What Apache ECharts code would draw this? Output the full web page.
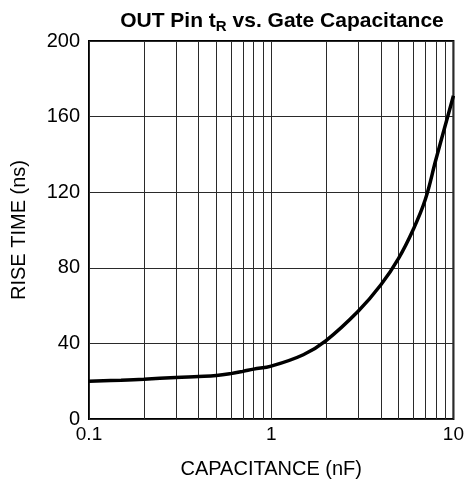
<!DOCTYPE html>
<html>
<head>
<meta charset="utf-8">
<script src="https://cdn.jsdelivr.net/npm/echarts@6/dist/echarts.min.js"></script>
<style>
html,body{margin:0;padding:0;background:#fff;}
#c{width:467px;height:489px;}
</style>
</head>
<body>
<div id="c"></div>
<script>
var capacitance = [0.1, 0.15, 0.2, 0.3, 0.4, 0.5, 0.6, 0.7, 0.8, 1, 1.5, 2, 3, 4, 5, 6, 7, 8, 9, 10];
var riseTime    = [20, 20.5, 21, 22, 22.5, 23, 24, 25.2, 26.4, 28, 34, 41.5, 57, 71, 85, 100, 116, 137, 155, 171];
var minorGridX  = [0.2, 0.3, 0.4, 0.5, 0.6, 0.7, 0.8, 0.9, 2, 3, 4, 5, 6, 7, 8, 9];
var yTicks = {min: 0, max: 200, interval: 40};
var xRange = {min: 0.1, max: 10};

var chart = echarts.init(document.getElementById('c'), null, {renderer: 'canvas'});
var font = 'Liberation Sans, Arial, sans-serif';
var gridColor = '#2a2a2a';

chart.setOption({
  animation: false,
  backgroundColor: '#fff',
  title: {
    text: '{b|OUT Pin t}{s|R}{b| vs. Gate Capacitance}',
    left: 277,
    textAlign: 'center',
    top: 4,
    textStyle: {
      rich: {
        b: {fontFamily: font, fontWeight: 'bold', fontSize: 21, color: '#000'},
        s: {fontFamily: font, fontWeight: 'bold', fontSize: 15, color: '#000', verticalAlign: 'bottom', padding: [10, 0, 0, 0]}
      }
    }
  },
  grid: {
    left: 89, right: 12, top: 41, bottom: 70,
    show: true, borderColor: '#000', borderWidth: 2, backgroundColor: 'transparent'
  },
  xAxis: {
    type: 'log', logBase: 10, min: xRange.min, max: xRange.max,
    name: 'CAPACITANCE (nF)', nameLocation: 'middle', nameGap: 40,
    nameTextStyle: {fontFamily: font, fontSize: 20, color: '#000'},
    axisLine: {show: false}, axisTick: {show: false},
    axisLabel: {fontFamily: font, fontSize: 19, color: '#000', margin: 6,
      formatter: function (v) { return String(+v.toPrecision(3)); }},
    splitLine: {show: true, lineStyle: {color: gridColor, width: 1}}
  },
  yAxis: {
    type: 'value', min: yTicks.min, max: yTicks.max, interval: yTicks.interval,
    name: 'RISE TIME (ns)', nameLocation: 'middle', nameGap: 60,
    nameTextStyle: {fontFamily: font, fontSize: 20, color: '#000'},
    axisLine: {show: false}, axisTick: {show: false},
    axisLabel: {fontFamily: font, fontSize: 20, color: '#000', margin: 9},
    splitLine: {show: true, lineStyle: {color: gridColor, width: 1}}
  },
  series: [{
    type: 'line',
    data: capacitance.map(function (c, i) { return [c, riseTime[i]]; }),
    smooth: 0.4,
    showSymbol: false,
    lineStyle: {color: '#000', width: 3.5},
    z: 5,
    markLine: {
      silent: true, symbol: ['none', 'none'], label: {show: false},
      lineStyle: {type: 'solid', color: gridColor, width: 1},
      data: minorGridX.map(function (v) { return {xAxis: v}; }),
      z: 1
    }
  }]
});
</script>
</body>
</html>
